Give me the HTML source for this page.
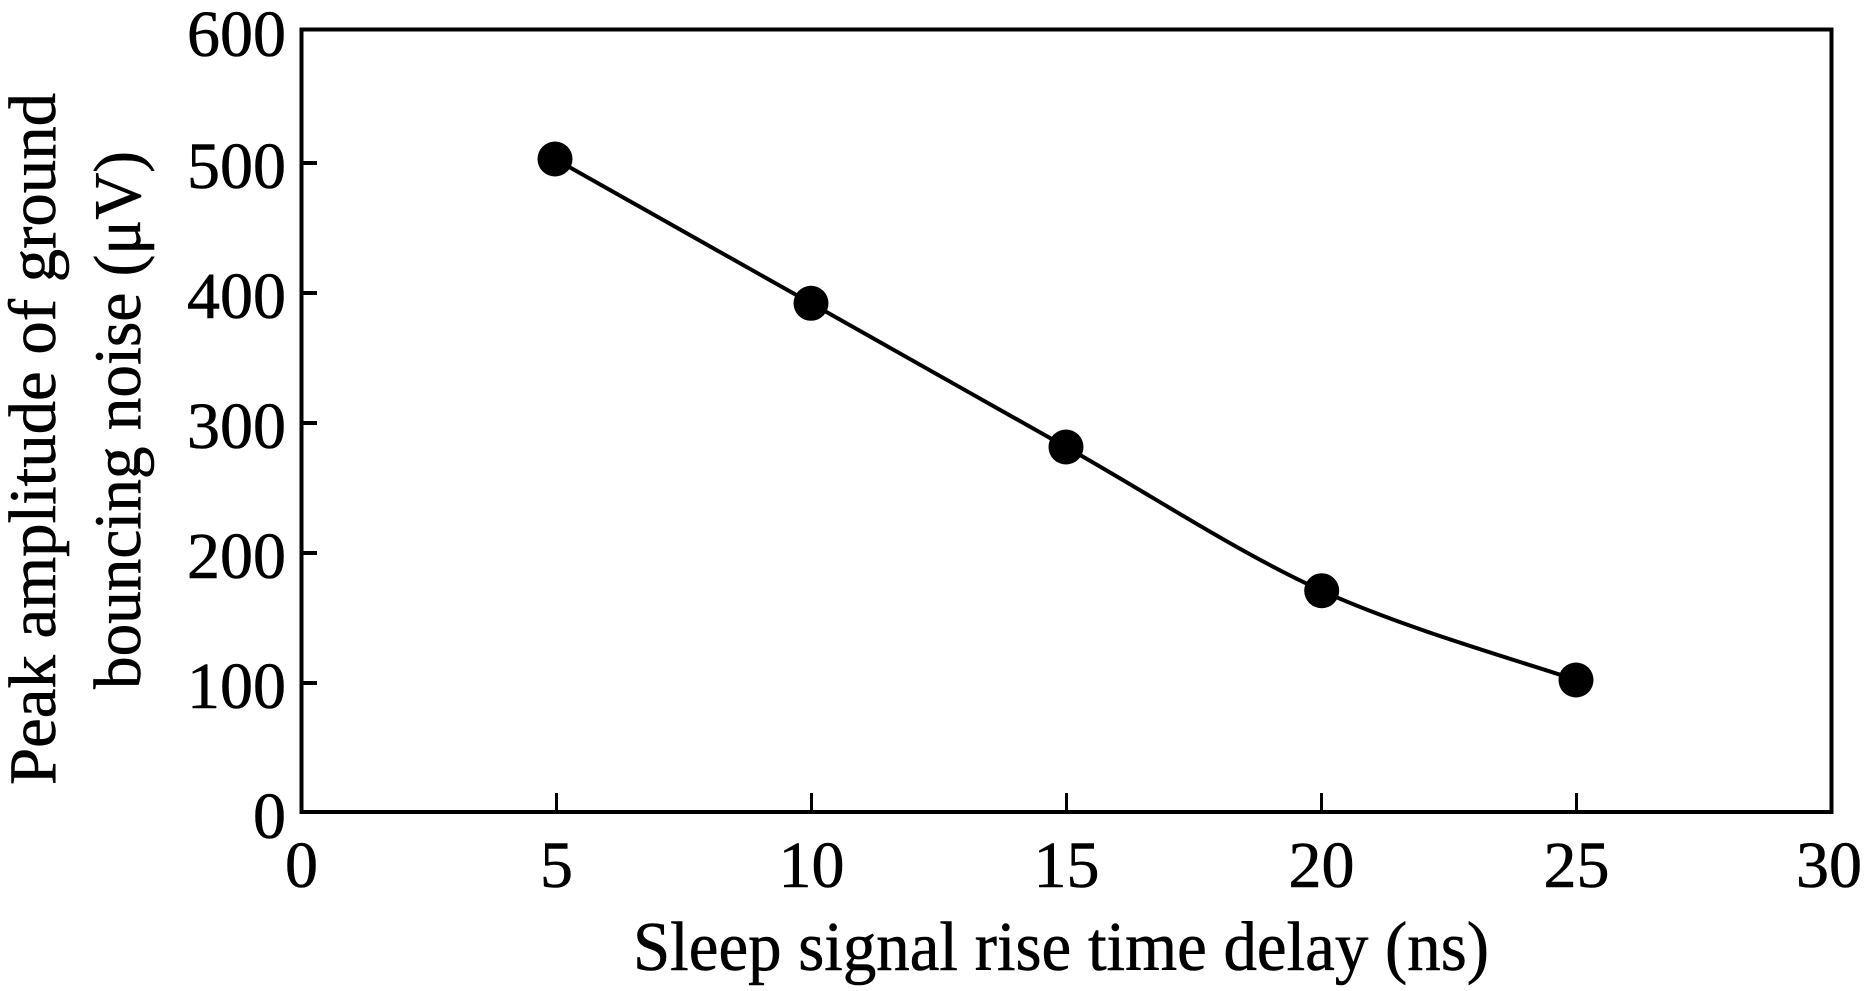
<!DOCTYPE html>
<html>
<head>
<meta charset="utf-8">
<style>
  html, body { margin: 0; padding: 0; background: #ffffff; }
  svg { display: block; }
  text { font-family: "Liberation Serif", "Times New Roman", serif; fill: #000; stroke: #000; stroke-width: 0.6; }
</style>
</head>
<body>
<svg width="1866" height="991" viewBox="0 0 1866 991" xmlns="http://www.w3.org/2000/svg">
  <rect x="0" y="0" width="1866" height="991" fill="#ffffff"/>

  <!-- frame -->
  <rect x="301.5" y="29.5" width="1530" height="782.5" fill="none" stroke="#000" stroke-width="4"/>

  <!-- y ticks -->
  <g stroke="#000" stroke-width="4">
    <line x1="301.5" y1="683" x2="317" y2="683"/>
    <line x1="301.5" y1="553" x2="317" y2="553"/>
    <line x1="301.5" y1="423" x2="317" y2="423"/>
    <line x1="301.5" y1="293" x2="317" y2="293"/>
    <line x1="301.5" y1="163" x2="317" y2="163"/>
  </g>

  <!-- x ticks -->
  <g stroke="#000" stroke-width="3">
    <line x1="556.5" y1="812" x2="556.5" y2="793"/>
    <line x1="811.5" y1="812" x2="811.5" y2="793"/>
    <line x1="1066.5" y1="812" x2="1066.5" y2="793"/>
    <line x1="1321.5" y1="812" x2="1321.5" y2="793"/>
    <line x1="1576.5" y1="812" x2="1576.5" y2="793"/>
  </g>

  <!-- y tick labels -->
  <g font-size="66" text-anchor="end">
    <text x="286" y="838">0</text>
    <text x="286" y="708">100</text>
    <text x="286" y="578">200</text>
    <text x="286" y="448">300</text>
    <text x="286" y="318">400</text>
    <text x="286" y="188">500</text>
    <text x="286" y="56">600</text>
  </g>

  <!-- x tick labels -->
  <g font-size="66" text-anchor="middle">
    <text x="301.5" y="887">0</text>
    <text x="556.5" y="887">5</text>
    <text x="811.5" y="887">10</text>
    <text x="1066.5" y="887">15</text>
    <text x="1321.5" y="887">20</text>
    <text x="1576.5" y="887">25</text>
    <text x="1829" y="887">30</text>
  </g>

  <!-- x axis title -->
  <text x="633" y="970" font-size="70" textLength="856" lengthAdjust="spacingAndGlyphs">Sleep signal rise time delay (ns)</text>

  <!-- y axis title -->
  <text transform="translate(55,439) rotate(-90)" font-size="67" text-anchor="middle" textLength="692" lengthAdjust="spacingAndGlyphs">Peak amplitude of ground</text>
  <text transform="translate(140,420) rotate(-90)" font-size="67" text-anchor="middle" textLength="538" lengthAdjust="spacingAndGlyphs">bouncing noise (μV)</text>

  <!-- data curve -->
  <path d="M555,159 C597.7,183.05 725.8,255.3 811,303.3 C896.2,351.3 980.9,399.1 1066,447 C1151.1,494.9 1236.7,551.9 1321.7,590.7 C1406.7,629.5 1533.6,665.1 1576,680"
        fill="none" stroke="#000" stroke-width="4"/>

  <!-- markers -->
  <g fill="#000">
    <circle cx="555" cy="159" r="17.5"/>
    <circle cx="811" cy="303.3" r="17.5"/>
    <circle cx="1066" cy="447" r="17.5"/>
    <circle cx="1321.7" cy="590.7" r="17.5"/>
    <circle cx="1576" cy="680" r="17.5"/>
  </g>
</svg>
</body>
</html>
